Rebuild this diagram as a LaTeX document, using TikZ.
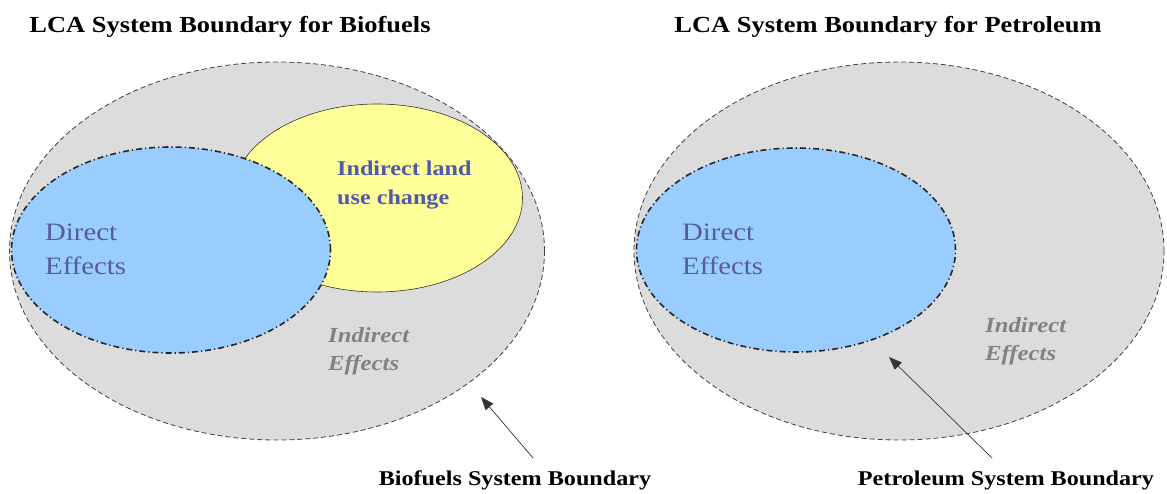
\documentclass[tikz,border=0pt]{standalone}
\usepackage{fontspec}
\setmainfont[FakeStretch=1.15]{Liberation Serif}
\usetikzlibrary{shapes.geometric,arrows.meta}
\definecolor{bggray}{RGB}{220,220,220}
\definecolor{dirblue}{RGB}{153,204,255}
\definecolor{luyellow}{RGB}{255,255,153}
\definecolor{dirtext}{RGB}{88,92,150}
\definecolor{lutext}{RGB}{80,90,170}
\definecolor{indtext}{RGB}{130,130,130}
\tikzset{
  boundary/.style={ellipse, draw=black!75, fill=bggray, dash pattern=on 5pt off 3pt, line width=0.8pt, inner sep=0pt},
  direct/.style={ellipse, draw=black!85, fill=dirblue, dash pattern=on 6pt off 3pt on 1.2pt off 3pt, line width=1.6pt, inner sep=0pt},
  luc/.style={ellipse, draw=black!80, fill=luyellow, line width=0.6pt, inner sep=0pt},
  title/.style={font=\fontsize{23}{26}\selectfont\bfseries, text=black},
  bottomlab/.style={font=\fontsize{21}{24}\selectfont\bfseries, text=black},
  dirlab/.style={font=\fontsize{25}{34}\selectfont, text=dirtext, align=left, anchor=north west, inner sep=0pt},
  lulab/.style={font=\fontsize{21}{29}\selectfont\bfseries, text=lutext, align=left, anchor=north west, inner sep=0pt},
  indlab/.style={font=\fontsize{21.5}{28}\selectfont\bfseries\itshape, text=indtext, align=left, anchor=north west, inner sep=0pt},
  pointer/.style={-{Triangle[length=13pt,width=10pt]}, line width=0.7pt, black!80}
}
\begin{document}
\begin{tikzpicture}[x=1pt,y=1pt]
\useasboundingbox (0,0) rectangle (1167,493);
% left diagram
\node[boundary, minimum width=535pt, minimum height=378pt] (bigL) at (277,242) {};
\node[luc, minimum width=291pt, minimum height=188pt] (lucL) at (377,295) {};
\node[direct, minimum width=319pt, minimum height=206pt] (dirL) at (171,243) {};
\node[dirlab] (dirLt) at (45,269) {Direct\\Effects};
\node[lulab] (lucLt) at (337,332) {Indirect land\\use change};
\node[indlab] (indLt) at (328,166) {Indirect\\Effects};
% right diagram
\node[boundary, minimum width=530pt, minimum height=378pt] (bigR) at (899,242) {};
\node[direct, minimum width=319pt, minimum height=204pt] (dirR) at (796,243) {};
\node[dirlab] (dirRt) at (682,269) {Direct\\Effects};
\node[indlab] (indRt) at (985,176) {Indirect\\Effects};
% titles
\node[title] (titL) at (230,466) {LCA System Boundary for Biofuels};
\node[title] (titR) at (888,466) {LCA System Boundary for Petroleum};
% bottom labels and pointers
\node[bottomlab] (labL) at (515,13) {Biofuels System Boundary};
\node[bottomlab] (labR) at (1006,13) {Petroleum System Boundary};
\coordinate (tailL) at (533,35);
\coordinate (tipL) at (481,96);
\coordinate (tailR) at (992,35);
\coordinate (tipR) at (889,136);
\draw[pointer] (tailL) -- (tipL);
\draw[pointer] (tailR) -- (tipR);
\end{tikzpicture}
\end{document}
